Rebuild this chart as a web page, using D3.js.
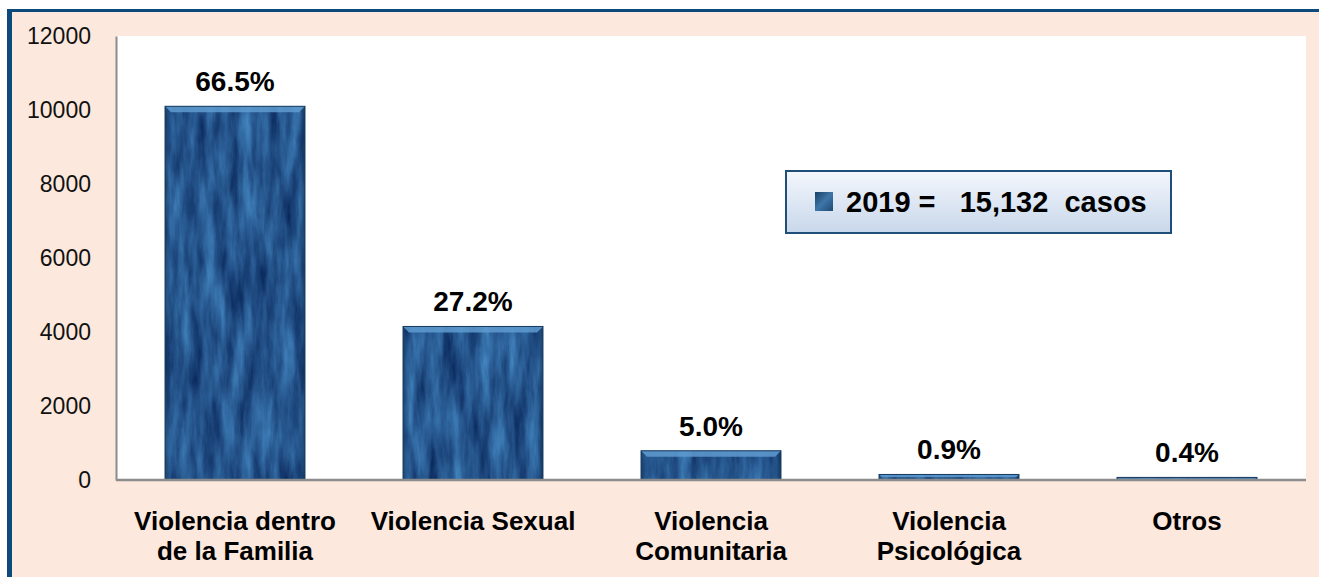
<!DOCTYPE html>
<html>
<head>
<meta charset="utf-8">
<script src="https://cdn.jsdelivr.net/npm/d3@7"></script>
<style>
  body { margin: 0; background: #fff; }
  svg { display: block; font-family: Arial, "Liberation Sans", sans-serif; }
</style>
</head>
<body>
<div id="chart"></div>
<script>
// data
const categories = ["Violencia dentro de la Familia", "Violencia Sexual", "Violencia Comunitaria", "Violencia Psicológica", "Otros"];
const categoryLines = [["Violencia dentro", "de la Familia"], ["Violencia Sexual"], ["Violencia", "Comunitaria"], ["Violencia", "Psicológica"], ["Otros"]];
const casos = [10100, 4150, 790, 150, 70];
const porcentajes = ["66.5%", "27.2%", "5.0%", "0.9%", "0.4%"];
const yTicks = [0, 2000, 4000, 6000, 8000, 10000, 12000];
const legendText = "2019 =   15,132  casos";

let svgWidth = 1319;
let svgHeight = 577;

// plot area
let margin = { top: 36, right: 13, bottom: 97, left: 116 };
let width = svgWidth - margin.left - margin.right;
let height = svgHeight - margin.top - margin.bottom;

let svg = d3.select('#chart')
    .append('svg')
    .attr('width', svgWidth)
    .attr('height', svgHeight);

let defs = svg.append('defs');

// marble texture for the bars
let marble = defs.append('filter')
    .attr('id', 'marble')
    .attr('color-interpolation-filters', 'sRGB')
    .attr('x', 0).attr('y', 0).attr('width', 1).attr('height', 1);
marble.append('feTurbulence')
    .attr('type', 'fractalNoise')
    .attr('baseFrequency', '0.08 0.014')
    .attr('numOctaves', 5)
    .attr('seed', 7)
    .attr('result', 'noise');
marble.append('feColorMatrix')
    .attr('in', 'noise')
    .attr('type', 'matrix')
    .attr('values', '0.32 0 0 0 -0.01  0.52 0 0 0 0.08  0.56 0 0 0 0.28  0 0 0 0 1')
    .attr('result', 'col');
marble.append('feComposite')
    .attr('in', 'col')
    .attr('in2', 'SourceGraphic')
    .attr('operator', 'in');

// darker sides of the bars
let side = defs.append('linearGradient').attr('id', 'side');
side.append('stop').attr('offset', '0%').attr('stop-color', '#0b2a4a').attr('stop-opacity', 0.5);
side.append('stop').attr('offset', '4%').attr('stop-color', '#0b2a4a').attr('stop-opacity', 0.05);
side.append('stop').attr('offset', '96%').attr('stop-color', '#0b2a4a').attr('stop-opacity', 0.05);
side.append('stop').attr('offset', '100%').attr('stop-color', '#0b2a4a').attr('stop-opacity', 0.55);

let legendFill = defs.append('linearGradient').attr('id', 'legendFill')
    .attr('x1', 0).attr('y1', 0).attr('x2', 0).attr('y2', 1);
legendFill.append('stop').attr('offset', '0%').attr('stop-color', '#f4f7fc');
legendFill.append('stop').attr('offset', '100%').attr('stop-color', '#c8d7eb');

let markFill = defs.append('linearGradient').attr('id', 'markFill')
    .attr('x1', 0).attr('y1', 0).attr('x2', 1).attr('y2', 1);
markFill.append('stop').attr('offset', '0%').attr('stop-color', '#173f66');
markFill.append('stop').attr('offset', '50%').attr('stop-color', '#3f76a8');
markFill.append('stop').attr('offset', '100%').attr('stop-color', '#1d4a75');

// panel background with the blue frame
svg.append('rect')
    .attr('x', 7).attr('y', 9)
    .attr('width', svgWidth - 7).attr('height', svgHeight - 9)
    .attr('fill', '#0d4a7c');
svg.append('rect')
    .attr('x', 12).attr('y', 12)
    .attr('width', svgWidth - 12).attr('height', svgHeight - 12)
    .attr('fill', '#fce8dc');

let chartGroup = svg.append('g')
    .attr('transform', `translate(${margin.left}, ${margin.top})`);

chartGroup.append('rect')
    .attr('width', width).attr('height', height)
    .attr('fill', '#fff');

let x = d3.scaleBand()
    .domain(categories)
    .range([0, width])
    .paddingInner(0.412)
    .paddingOuter(0.206);

let y = d3.scaleLinear()
    .domain([0, 12000])
    .range([height, 0]);

// y axis
let leftAxis = d3.axisLeft(y).tickValues(yTicks).tickSize(0).tickPadding(25).tickFormat(d3.format('d'));
let yAxis = chartGroup.append('g').call(leftAxis);
yAxis.select('.domain').attr('stroke', '#8c8c8c').attr('stroke-width', 2);
yAxis.selectAll('text')
    .attr('font-size', 23)
    .attr('font-family', 'Arial, "Liberation Sans", sans-serif')
    .attr('fill', '#111');

// bars
let bars = chartGroup.selectAll('.bar')
    .data(casos)
    .enter()
    .append('g')
    .attr('class', 'bar');

bars.append('rect')
    .attr('x', (d, i) => x(categories[i]))
    .attr('y', d => y(d))
    .attr('width', x.bandwidth())
    .attr('height', d => height - y(d))
    .attr('fill', '#1e558c')
    .attr('filter', 'url(#marble)');

bars.append('rect')
    .attr('x', (d, i) => x(categories[i]))
    .attr('y', d => y(d))
    .attr('width', x.bandwidth())
    .attr('height', d => height - y(d))
    .attr('fill', 'url(#side)');

// top bevel
bars.append('path')
    .attr('d', (d, i) => {
        let x0 = x(categories[i]), x1 = x0 + x.bandwidth(), y0 = y(d);
        let b = Math.min(6, (height - y0) / 2);
        return `M${x0},${y0}L${x1},${y0}L${x1 - b},${y0 + b}L${x0 + b},${y0 + b}Z`;
    })
    .attr('fill', '#5f9bd0')
    .attr('opacity', 0.85);

bars.append('rect')
    .attr('x', (d, i) => x(categories[i]))
    .attr('y', d => y(d))
    .attr('width', x.bandwidth())
    .attr('height', d => height - y(d))
    .attr('fill', 'none')
    .attr('stroke', '#173a5e')
    .attr('stroke-width', 1);

// percentage labels
chartGroup.selectAll('.pct')
    .data(porcentajes)
    .enter()
    .append('text')
    .attr('class', 'pct')
    .attr('x', (d, i) => x(categories[i]) + x.bandwidth() / 2)
    .attr('y', (d, i) => y(casos[i]) - 15)
    .attr('text-anchor', 'middle')
    .attr('font-size', 28)
    .attr('font-weight', 'bold')
    .attr('fill', '#000')
    .text(d => d);

// x axis line
chartGroup.append('line')
    .attr('x1', 0).attr('x2', width)
    .attr('y1', height).attr('y2', height)
    .attr('stroke', '#8c8c8c')
    .attr('stroke-width', 2.5);

// category labels
let catLabels = chartGroup.selectAll('.cat')
    .data(categoryLines)
    .enter()
    .append('text')
    .attr('class', 'cat')
    .attr('text-anchor', 'middle')
    .attr('font-size', 26)
    .attr('font-weight', 'bold')
    .attr('fill', '#000');

catLabels.selectAll('tspan')
    .data((d, i) => d.map(t => ({ t: t, c: categories[i] })))
    .enter()
    .append('tspan')
    .attr('x', d => x(d.c) + x.bandwidth() / 2)
    .attr('y', (d, j) => height + 50 + j * 30)
    .text(d => d.t);

// legend box
let legend = svg.append('g').attr('transform', 'translate(786, 171)');
legend.append('rect')
    .attr('x', 1).attr('y', 1)
    .attr('width', 385).attr('height', 62)
    .attr('fill', '#9aaabb').attr('opacity', 0.5);
legend.append('rect')
    .attr('width', 385).attr('height', 62)
    .attr('fill', 'url(#legendFill)')
    .attr('stroke', '#1f4e79')
    .attr('stroke-width', 2);
legend.append('rect')
    .attr('x', 29).attr('y', 21)
    .attr('width', 18).attr('height', 19)
    .attr('fill', 'url(#markFill)');
legend.append('text')
    .attr('x', 60).attr('y', 41)
    .attr('font-size', 29)
    .attr('font-weight', 'bold')
    .attr('fill', '#000')
    .style('white-space', 'pre')
    .text(legendText);
</script>
</body>
</html>
